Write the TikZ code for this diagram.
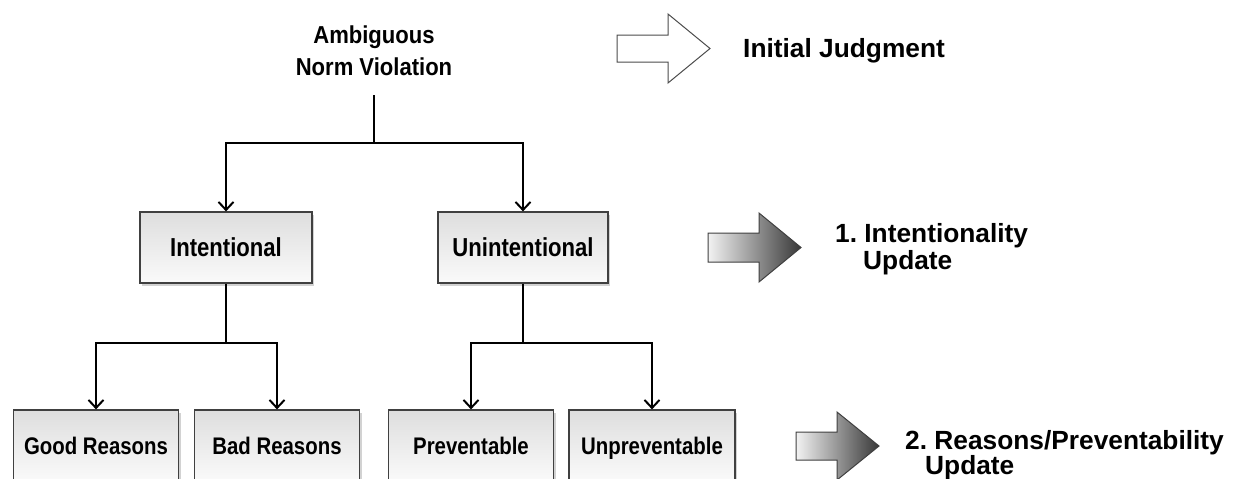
\documentclass[tikz,border=0pt]{standalone}
\usepackage{fontspec}
\setmainfont{Liberation Sans}
\newfontfamily\condfont[FakeStretch=0.85]{Liberation Sans}
\newfontfamily\titlefont[FakeStretch=0.9]{Liberation Sans}
\usetikzlibrary{arrows.meta,shadows}
\frenchspacing
\tikzset{
  box/.style={draw=black!75, line width=1.2pt, top color=black!13, bottom color=black!2,
    minimum height=71pt, inner sep=0pt, text depth=0pt,
    drop shadow={shadow xshift=2pt, shadow yshift=-3pt, opacity=0.35}},
  midbox/.style={box, font=\condfont\bfseries\fontsize{26}{28}\selectfont, text height=18.6pt},
  lowbox/.style={box, font=\condfont\bfseries\fontsize{24}{26}\selectfont, text height=17.2pt},
  conn/.style={line width=2pt, -{Straight Barb[length=8pt,width=15pt,line width=2pt]}},
  plainline/.style={line width=2pt},
  sidelabel/.style={font=\bfseries\fontsize{26.3}{27}\selectfont, anchor=base west, inner sep=0pt},
  titlelabel/.style={font=\titlefont\bfseries\fontsize{24.5}{30}\selectfont, anchor=base, inner sep=0pt},
  hollowarrow/.style={draw=black!70, line width=1pt, fill=white},
  shadedarrow/.style={draw=black!75, line width=1pt, left color=black!5, right color=black!78},
}
\begin{document}
\begin{tikzpicture}[x=1pt,y=-1pt]
\useasboundingbox (0,0) rectangle (1239,479);
\clip (0,0) rectangle (1239,479);
\fill[white] (0,0) rectangle (1239,479);

% title
\node[titlelabel] (title1) at (374,43) {Ambiguous};
\node[titlelabel] (title2) at (374,75) {Norm Violation};
\coordinate (t0) at (374,95);
\coordinate (j0) at (374,143);

% boxes
\node[midbox, minimum width=172pt] (int) at (226,247.5) {Intentional};
\node[midbox, minimum width=170pt] (unint) at (523,247.5) {Unintentional};
\node[lowbox, minimum width=165pt] (good) at (96,445.5) {Good Reasons};
\node[lowbox, minimum width=165pt] (bad) at (277,445.5) {Bad Reasons};
\node[lowbox, minimum width=165pt] (prev) at (471,445.5) {Preventable};
\node[lowbox, minimum width=166pt] (unprev) at (652,445.5) {Unpreventable};

\coordinate (j1) at (226,343);
\coordinate (j2) at (523,343);

% connectors
\draw[plainline] (t0) -- (j0);
\draw[conn] (j0) -| (int.north);
\draw[conn] (j0) -| (unint.north);
\draw[plainline] (int.south) -- (j1);
\draw[conn] (j1) -| (good.north);
\draw[conn] (j1) -| (bad.north);
\draw[plainline] (unint.south) -- (j2);
\draw[conn] (j2) -| (prev.north);
\draw[conn] (j2) -| (unprev.north);

% block arrows
\draw[hollowarrow] (617,35) -- (668,35) -- (668,14) -- (710,48.5) -- (668,83) -- (668,62) -- (617,62) -- cycle;
\draw[shadedarrow] (708,233) -- (759,233) -- (759,213) -- (801,247.5) -- (759,282) -- (759,262) -- (708,262) -- cycle;
\draw[shadedarrow] (796,432) -- (837,432) -- (837,412) -- (879,446) -- (837,480) -- (837,460) -- (796,460) -- cycle;

% side labels
\node[sidelabel] (lab0) at (743,57) {Initial Judgment};
\node[sidelabel] (lab1a) at (835,242) {1. Intentionality};
\node[sidelabel] (lab1b) at (863,269) {Update};
\node[sidelabel] (lab2a) at (905,449) {2. Reasons/Preventability};
\node[sidelabel] (lab2b) at (925,474) {Update};
\end{tikzpicture}
\end{document}
